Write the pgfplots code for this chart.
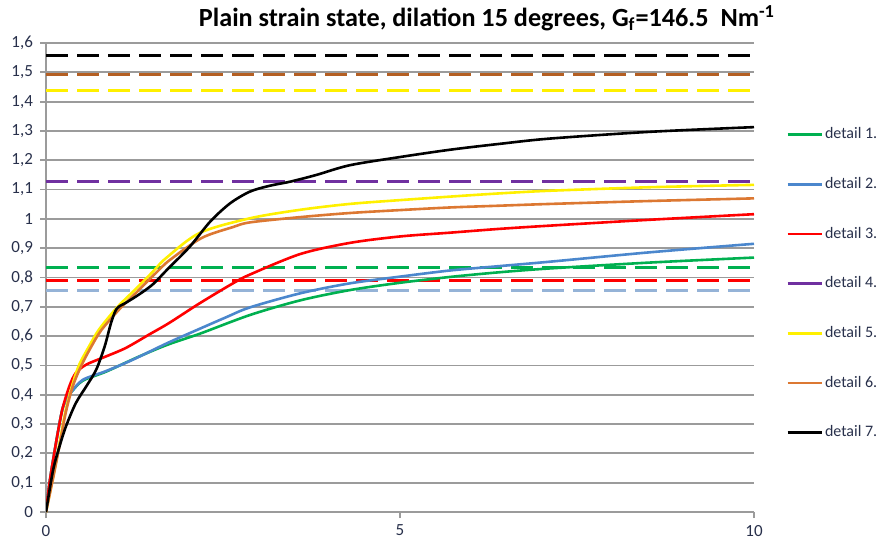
\documentclass[border=0pt]{standalone}
\usepackage{fontspec}
\setmainfont{Carlito}
\usepackage{pgfplots}
\pgfplotsset{compat=1.18}
\definecolor{cA}{RGB}{0,176,80}
\definecolor{cB}{RGB}{75,135,205}
\definecolor{cBl}{RGB}{149,179,215}
\definecolor{cC}{RGB}{255,0,0}
\definecolor{cD}{RGB}{112,48,160}
\definecolor{cE}{RGB}{255,240,0}
\definecolor{cF}{RGB}{220,120,50}
\definecolor{cFd}{RGB}{180,95,35}
\definecolor{cG}{RGB}{0,0,0}
\definecolor{gridc}{RGB}{155,155,155}
\definecolor{labc}{RGB}{40,48,75}
\begin{document}
\begin{tikzpicture}
\useasboundingbox (-23pt,-15.5pt) rectangle (415.5pt,256pt);
\begin{axis}[
  at={(0,0)}, anchor=south west,
  scale only axis, width=354pt, height=234.5pt,
  xmin=0, xmax=10, ymin=0, ymax=1.6,
  xtick={0,5,10},
  ytick={0,0.1,0.2,0.3,0.4,0.5,0.6,0.7,0.8,0.9,1,1.1,1.2,1.3,1.4,1.5,1.6},
  axis x line=bottom, axis y line=left,
  axis line style={-, draw=gridc, line width=0.9pt},
  ymajorgrids, grid style={gridc, line width=0.9pt},
  tick style={gridc, line width=0.9pt}, tick align=outside, major tick length=3pt,
  /pgf/number format/assume math mode=true,
  yticklabel style={/pgf/number format/.cd, fixed, precision=1, use comma},
  ticklabel style={font=\fontsize{8.5}{10}\selectfont, text=labc},
  legend style={at={(1.045,0.825)}, anchor=north west, draw=none, fill=none,
    font=\fontsize{8}{9.5}\selectfont, text=labc, row sep=15.8pt, inner sep=0pt,
    nodes={inner sep=1pt}},
  legend cell align=left,
  every axis plot/.append style={line width=1.3pt},
]
% dashed reference levels
\addplot[cG, dash pattern=on 11pt off 4.5pt, line width=1.5pt, forget plot] coordinates {(0,1.559) (10,1.559)};
\addplot[cFd, dash pattern=on 11pt off 4.5pt, line width=1.5pt, forget plot] coordinates {(0,1.492) (10,1.492)};
\addplot[cE, dash pattern=on 11pt off 4.5pt, line width=1.5pt, forget plot] coordinates {(0,1.439) (10,1.439)};
\addplot[cD, dash pattern=on 11pt off 4.5pt, line width=1.5pt, forget plot] coordinates {(0,1.129) (10,1.129)};
\addplot[cA, dash pattern=on 11pt off 4.5pt, line width=1.5pt, forget plot] coordinates {(0,0.833) (10,0.833)};
\addplot[cC, dash pattern=on 11pt off 4.5pt, line width=1.5pt, forget plot] coordinates {(0,0.791) (10,0.791)};
\addplot[cBl, dash pattern=on 11pt off 4.5pt, line width=1.5pt, forget plot] coordinates {(0,0.755) (10,0.755)};
% detail 1
\addplot[cA, smooth] table {
0 0
0.05 0.1
0.14 0.234
0.23 0.349
0.3 0.39
0.36 0.41
0.52 0.448
0.85 0.479
1.32 0.531
1.72 0.571
2.17 0.608
2.88 0.672
3.59 0.722
4.29 0.757
5.0 0.782
5.71 0.802
6.41 0.818
7.12 0.831
8.53 0.851
10 0.868
};
\addlegendentry{detail 1.}
% detail 2
\addplot[cB, smooth] table {
0 0
0.05 0.1
0.14 0.234
0.23 0.349
0.3 0.39
0.36 0.41
0.52 0.451
0.85 0.481
1.23 0.52
1.72 0.577
2.17 0.625
2.55 0.665
2.88 0.698
3.59 0.746
4.29 0.78
5.0 0.803
5.71 0.824
6.41 0.839
7.12 0.854
8.53 0.886
10 0.915
};
\addlegendentry{detail 2.}
% detail 3
\addplot[cC, smooth] table {
0 0
0.05 0.1
0.14 0.234
0.23 0.349
0.33 0.429
0.42 0.474
0.57 0.503
0.85 0.531
1.13 0.56
1.46 0.606
1.74 0.645
2.17 0.712
2.64 0.78
2.88 0.81
3.59 0.88
4.29 0.918
5.0 0.94
5.71 0.953
6.41 0.966
7.12 0.977
8.53 0.997
10 1.016
};
\addlegendentry{detail 3.}
\addlegendimage{cD, line width=1.3pt}
\addlegendentry{detail 4.}
% detail 5
\addplot[cE, smooth] table {
0 0
0.1 0.12
0.19 0.234
0.28 0.349
0.38 0.44
0.47 0.503
0.61 0.566
0.75 0.623
1.0 0.697
1.23 0.752
1.51 0.82
1.69 0.865
2.17 0.952
2.88 1.002
3.59 1.031
4.29 1.051
5.0 1.064
5.71 1.076
6.41 1.087
7.12 1.096
8.53 1.108
10 1.116
};
\addlegendentry{detail 5.}
% detail 6
\addplot[cF, smooth] table {
0 0
0.1 0.115
0.19 0.225
0.28 0.34
0.38 0.43
0.5 0.5
0.63 0.56
0.78 0.62
1.03 0.69
1.26 0.745
1.55 0.815
1.75 0.86
2.2 0.935
2.64 0.972
2.88 0.988
3.59 1.006
4.29 1.02
5.0 1.03
5.71 1.039
6.41 1.045
7.12 1.051
8.53 1.061
10 1.07
};
\addlegendentry{detail 6.}
% detail 7
\addplot[cG, smooth] table {
0 0
0.1 0.143
0.19 0.223
0.28 0.291
0.42 0.371
0.57 0.429
0.71 0.486
0.83 0.566
0.92 0.646
1.0 0.694
1.13 0.714
1.32 0.743
1.51 0.777
1.72 0.829
2.03 0.905
2.32 0.991
2.6 1.053
2.88 1.093
3.16 1.113
3.45 1.127
3.82 1.15
4.29 1.183
5.0 1.211
5.71 1.236
6.41 1.256
7.12 1.274
8.53 1.297
10 1.313
};
\addlegendentry{detail 7.}
\end{axis}
\node[font=\bfseries\fontsize{13.1}{15}\selectfont, anchor=center] at (220.5pt,247pt)
  {Plain strain state, dilation 15 degrees, G\textsubscript{f}=146.5~ Nm\textsuperscript{-1}};
\end{tikzpicture}
\end{document}
